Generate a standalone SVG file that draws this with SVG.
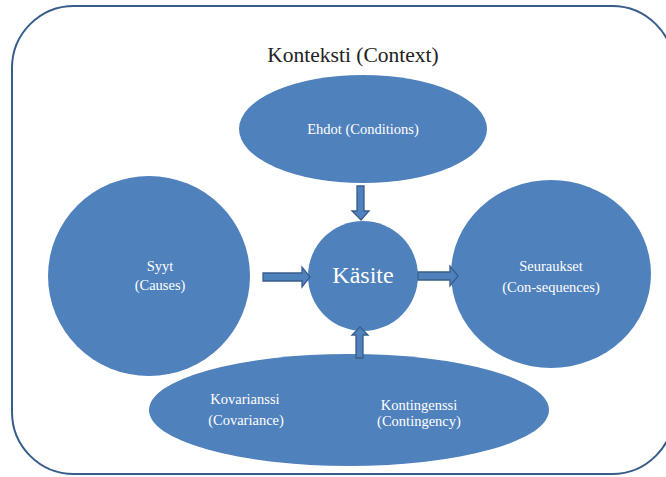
<svg xmlns="http://www.w3.org/2000/svg" width="666" height="477" viewBox="0 0 666 477">
<style>
.n{fill:#4F81BD}
text{font-family:'Liberation Serif','DejaVu Serif',serif}
.t{fill:#fff;text-anchor:middle;font-size:14.5px}
.a{fill:#4F81BD;stroke:#385D8A;stroke-width:1.3}
</style>
<rect x="12" y="6" width="662" height="468" rx="62" ry="62" fill="#fff" stroke="#385D8A" stroke-width="2"/>
<text x="353" y="62" font-size="21.5" fill="#222" text-anchor="middle">Konteksti (Context)</text>
<g id="ehdot"><ellipse class="n" cx="363" cy="129" rx="124" ry="54"/><text class="t" x="363" y="134">Ehdot (Conditions)</text></g>
<g id="syyt"><ellipse class="n" cx="149" cy="276" rx="101" ry="100"/><text class="t" x="160" y="271">Syyt</text><text class="t" x="160" y="290">(Causes)</text></g>
<g id="kasite"><circle class="n" cx="363" cy="276" r="55"/><text class="t" x="363" y="283" style="font-size:24px">Käsite</text></g>
<g id="seuraukset"><ellipse class="n" cx="551" cy="274" rx="100" ry="94"/><text class="t" x="551" y="271">Seuraukset</text><text class="t" x="551" y="292">(Con-sequences)</text></g>
<g id="kova"><ellipse class="n" cx="349" cy="410" rx="200" ry="56"/><text class="t" x="245" y="404">Kovarianssi</text><text class="t" x="246" y="425">(Covariance)</text><text class="t" x="419" y="410">Kontingenssi</text><text class="t" x="419" y="426">(Contingency)</text></g>
<g id="connectors">
<path class="a" d="M357,186 H364 V211 H369 L361,220 L352,211 H357 Z"/>
<path class="a" d="M263,273 H302 V267 L310,277 L302,287 V281 H263 Z"/>
<path class="a" d="M418,272 H450 V266 L458,276 L450,286 V280 H418 Z"/>
<path class="a" d="M356,358 V335 H352 L360,327 L368,335 H363 V358 Z"/>
</g>
</svg>
